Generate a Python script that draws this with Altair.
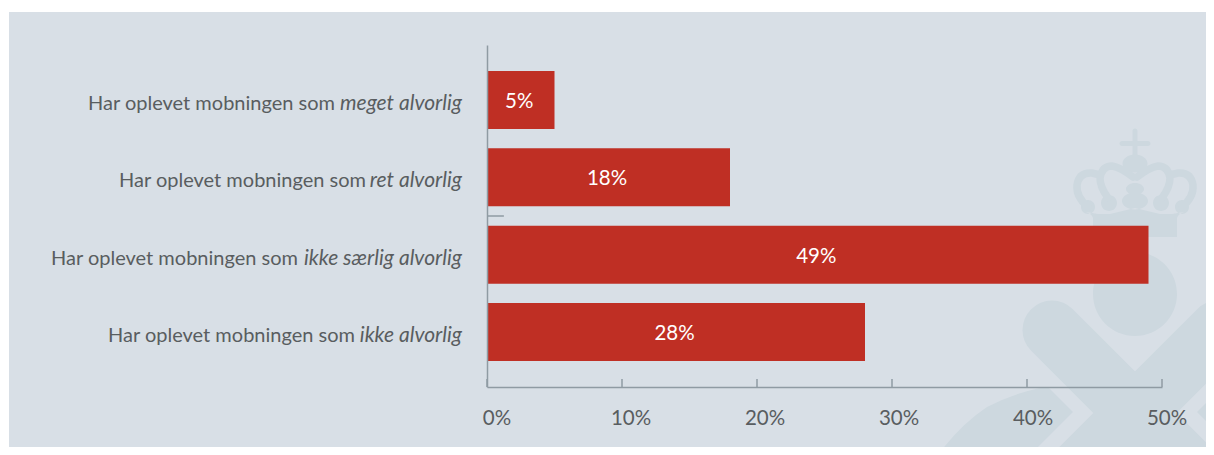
import altair as alt
import pandas as pd

categories = ["meget alvorlig", "ret alvorlig", "ikke særlig alvorlig", "ikke alvorlig"]
values = [5, 18, 49, 28]
tick_values = [0, 10, 20, 30, 40, 50]
tick_labels = ["0%", "10%", "20%", "30%", "40%", "50%"]
lead_text = "Har oplevet mobningen som"
stray_mark = [0, 1.25]

BG = "#d8dfe6"
EMB = "#cdd8df"
RED = "#bf2f24"
AXIS = "#8f9ba3"
TXT = "#595d60"
FONT = "Lato"
FS = 20
FS_IT = 21

df = pd.DataFrame({"cat": categories, "v": values, "label": [f"{v}%" for v in values],
                   "lead": [lead_text] * 4})
ticks = pd.DataFrame({"t": tick_values, "label": tick_labels})

W, H = 675, 342
xs = alt.Scale(domain=[0, 50], nice=False, zero=True)
ys = alt.Scale(domain=categories, paddingInner=0.25, paddingOuter=0.336)
ax = alt.Axis(labels=False, ticks=False, grid=False, title=None, domainColor=AXIS, domainWidth=1.5, zindex=1)

# page furniture: panel and watermark (drawn in reference pixel space, origin shifted by the symbol position)
one = pd.DataFrame({"a": [0]})
panel = alt.Chart(one).mark_rect(color=BG).encode(
    x=alt.value(-478), x2=alt.value(719), y=alt.value(-33), y2=alt.value(402))

fill_path = (
    "M1132.5 131 A2.5 2.5 0 0 1 1137.5 131 L1137.5 141 L1148 141 A2.5 2.5 0 0 1 1148 146 L1137.5 146 L1137.5 156 "
    "L1132.5 156 L1132.5 146 L1122 146 A2.5 2.5 0 0 1 1122 141 L1132.5 141 Z "
    "M1122.5 163.5 A12.5 9 0 1 1 1147.5 163.5 A12.5 9 0 1 1 1122.5 163.5 Z "
    "M1126 189 A9 6 0 1 1 1144 189 A9 6 0 1 1 1126 189 Z "
    "M1122 201 A13 8.5 0 1 1 1148 201 A13 8.5 0 1 1 1122 201 Z "
    "M1101 203 A8 8 0 1 1 1117 203 A8 8 0 1 1 1101 203 Z "
    "M1153 203 A8 8 0 1 1 1169 203 A8 8 0 1 1 1153 203 Z "
    "M1081 207 A7 7 0 1 1 1095 207 A7 7 0 1 1 1081 207 Z "
    "M1175 207 A7 7 0 1 1 1189 207 A7 7 0 1 1 1175 207 Z "
    "M1093 237 L1177 237 L1177 218 Q1178 214 1184 212 L1172 214 L1160 214 L1135 208 L1110 214 L1098 214 L1086 212 "
    "Q1092 214 1093 218 Z "
    "M1093 294 A42 42 0 1 1 1177 294 A42 42 0 1 1 1093 294 Z "
    "M938 455 Q960 425 987 407 Q1012 394 1040 388 L1049 388 L1073 412 L1030 455 Z "
    "M1197 412 L1214 395 L1214 429 Z"
)
stroke_path = (
    "M1088 207 Q1076 197 1077 185 Q1079 172 1092 173 L1100 175 "
    "M1108 198 Q1100 187 1100 178 Q1102 166 1112 166 Q1120 167 1133 177 "
    "M1182 207 Q1194 197 1193 185 Q1191 172 1178 173 L1170 175 "
    "M1162 198 Q1170 187 1170 178 Q1168 166 1158 166 Q1150 167 1137 177"
)
x_path = "M1052 330 L1240 518 M1218 330 L1030 518"

emblem_fill = alt.Chart(one).mark_point(shape=fill_path, size=4, filled=True, color=EMB, opacity=1, strokeWidth=0).encode(
    x=alt.value(-487), y=alt.value(-45))
emblem_arches = alt.Chart(one).mark_point(shape=stroke_path, size=4, filled=False, color=EMB, opacity=1,
                                          strokeWidth=7.5, strokeCap="round").encode(
    x=alt.value(-487), y=alt.value(-45))
emblem_x = alt.Chart(one).mark_point(shape=x_path, size=4, filled=False, color=EMB, opacity=1,
                                     strokeWidth=59, strokeCap="round").encode(
    x=alt.value(-487), y=alt.value(-45))

bars = alt.Chart(df).mark_bar(color=RED).encode(
    x=alt.X("v:Q", scale=xs, axis=ax),
    y=alt.Y("cat:N", scale=ys, axis=ax),
)

bar_labels = alt.Chart(df).transform_calculate(mid="datum.v/2").mark_text(
    color="white", font=FONT, fontSize=20.5, dx=-1.5, dy=2).encode(
    x=alt.X("mid:Q", scale=xs, axis=ax), y=alt.Y("cat:N", scale=ys, axis=ax), text="label:N")

tick_rules = alt.Chart(ticks).mark_rule(color=AXIS, strokeWidth=1.5).encode(
    x=alt.X("t:Q", scale=xs, axis=ax), y=alt.value(334), y2=alt.value(342))

stray = alt.Chart(pd.DataFrame({"a": [stray_mark[0]], "b": [stray_mark[1]]})).mark_rule(
    color=AXIS, strokeWidth=1.5).encode(
    x=alt.X("a:Q", scale=xs, axis=ax), x2="b:Q", y=alt.value(171))

tick_text = alt.Chart(ticks).transform_calculate(pos="datum.t*670/675 + 10/13.5").mark_text(
    color=TXT, font=FONT, fontSize=20.5).encode(
    x=alt.X("pos:Q", scale=xs, axis=ax), y=alt.value(374), text="label:N")

italic_labels = alt.Chart(df).mark_text(color=TXT, font=FONT, fontSize=FS_IT, fontStyle="italic", align="right", dy=4).encode(
    x=alt.value(-25), y=alt.Y("cat:N", scale=ys, axis=ax), text="cat:N")

# each lead text ends just left of its italic part
lead_gap = {"meget alvorlig": 127, "ret alvorlig": 96, "ikke særlig alvorlig": 164, "ikke alvorlig": 107}
lead_layers = [
    alt.Chart(df).transform_filter(alt.datum.cat == c).mark_text(
        color=TXT, font=FONT, fontSize=FS, align="right", dx=-g, dy=4).encode(
        x=alt.value(-25), y=alt.Y("cat:N", scale=ys, axis=ax), text="lead:N")
    for c, g in lead_gap.items()
]

chart = alt.layer(panel, emblem_x, emblem_fill, emblem_arches, bars, bar_labels, tick_rules, stray, tick_text,
                  italic_labels, *lead_layers).properties(
    width=W, height=H,
    autosize=alt.AutoSizeParams(type="none"),
    padding={"left": 479, "top": 37, "right": 44, "bottom": 60},
    background="white",
).configure_view(stroke=None)

chart.save("out.html", embed_options={"renderer": "svg", "actions": False})
